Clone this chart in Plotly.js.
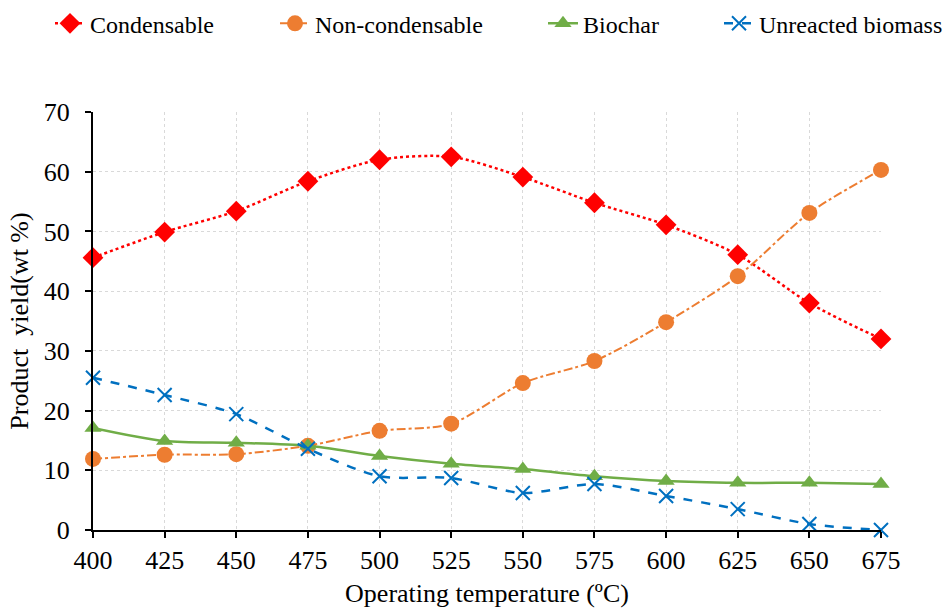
<!DOCTYPE html>
<html><head><meta charset="utf-8">
<script src="https://cdn.plot.ly/plotly-3.0.1.min.js"></script>
<style>body{margin:0;background:#fff}#c{width:944px;height:608px}</style>
</head><body><div id="c"></div>
<script>
const temps = [400,425,450,475,500,525,550,575,600,625,650,675];
const condensable = [45.6,49.9,53.4,58.4,62.0,62.5,59.1,54.8,51.1,46.1,38.0,32.0];
const nonCondensable = [11.9,12.6,12.7,14.1,16.6,17.8,24.6,28.3,34.8,42.5,53.1,60.3];
const biochar = [17.1,14.9,14.6,14.1,12.4,11.1,10.2,9.0,8.2,7.9,7.9,7.7];
const unreacted = [25.5,22.6,19.4,13.6,9.0,8.7,6.2,7.7,5.7,3.5,1.0,0.0];
const names = ['Condensable','Non-condensable','Biochar','Unreacted biomass'];

const traces = [
 {x:temps,y:condensable,name:names[0],mode:'lines+markers',legend:'legend',
  line:{color:'#FF0000',width:2.5,dash:'dot',shape:'spline',smoothing:0.8},
  marker:{symbol:'diamond',size:16,color:'#FF0000'},cliponaxis:false},
 {x:temps,y:nonCondensable,name:names[1],mode:'lines+markers',legend:'legend2',
  line:{color:'#ED7D31',width:2,dash:'dashdot',shape:'spline',smoothing:0.8},
  marker:{symbol:'circle',size:16,color:'#ED7D31'},cliponaxis:false},
 {x:temps,y:biochar,name:names[2],mode:'lines+markers',legend:'legend3',
  line:{color:'#70AD47',width:2.5,shape:'spline',smoothing:0.8},
  marker:{symbol:'triangle-up',size:15,color:'#70AD47'},cliponaxis:false},
 {x:temps,y:unreacted,name:names[3],mode:'lines+markers',legend:'legend4',
  line:{color:'#0070C0',width:2.5,dash:'dash',shape:'spline',smoothing:0.8},
  marker:{symbol:'x-thin-open',size:14,color:'#0070C0',line:{color:'#0070C0',width:2}},cliponaxis:false}
];

function leg(px){
  return {orientation:'h',x:px/944,xref:'container',xanchor:'left',
    y:0.998,yref:'container',yanchor:'top',font:{size:24},bgcolor:'rgba(0,0,0,0)'};
}

const layout = {
 width:944,height:608,
 margin:{l:93,r:63,t:112,b:78},
 paper_bgcolor:'#fff',plot_bgcolor:'#fff',
 font:{family:'Liberation Serif, Times New Roman, serif',color:'#000',size:24},
 showlegend:true,
 legend:leg(50), legend2:leg(275), legend3:leg(543), legend4:leg(719),
 xaxis:{range:[400,675],tickvals:temps,ticktext:temps.map(String),
   showline:true,linecolor:'#000',linewidth:2,ticks:'outside',ticklen:6,tickwidth:2,tickcolor:'#000',
   showgrid:true,gridcolor:'#d9d9d9',griddash:'dot',gridwidth:1,zeroline:false,
   tickfont:{size:26},ticklabelstandoff:0,
   title:{text:'Operating temperature (ºC)',font:{size:26},standoff:12}},
 yaxis:{range:[0,70],dtick:10,
   showline:true,linecolor:'#000',linewidth:2,ticks:'outside',ticklen:6,tickwidth:2,tickcolor:'#000',
   showgrid:true,gridcolor:'#d9d9d9',griddash:'dot',gridwidth:1,zeroline:false,
   tickfont:{size:26},ticklabelstandoff:10,
   title:{text:'Product  yield(wt %)',font:{size:26},standoff:8}}
};
Plotly.newPlot('c',traces,layout,{displayModeBar:false,staticPlot:true});
</script></body></html>
